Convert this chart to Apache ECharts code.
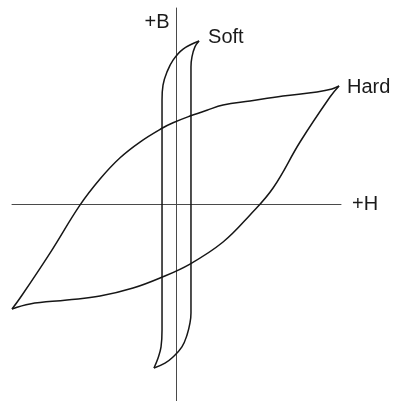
<!DOCTYPE html>
<html>
<head>
<meta charset="utf-8">
<style>
  html, body { margin: 0; padding: 0; background: #ffffff; }
  #chart { width: 394px; height: 401px; }
</style>
<script src="https://cdn.jsdelivr.net/npm/echarts@6/dist/echarts.min.js"></script>
</head>
<body>
<div id="chart"></div>
<script>
// Axis titles and curve names
var axisNameH = '+H';
var axisNameB = '+B';
var loopNames = ['Soft', 'Hard'];

// Hard material loop: upper (descending) branch, from +tip to -tip  [H, B]
var hardUpper = [
  [98.8, 60.3], [94.5, 58.8], [85.4, 57.3], [64.7, 55.2], [44.7, 52.7],
  [28.3, 50.6], [18.5, 48.0], [8.2, 45.0], [-2.1, 41.6],
  [-8.8, 38.8], [-22.2, 31.8], [-34.3, 23.8],
  [-46.5, 13.0], [-58.7, -0.3], [-76.9, -24.7],
  [-95.1, -47.6], [-100, -53.2]
];
// Hard material loop: lower (ascending) branch, from -tip to +tip
var hardLower = [
  [-100, -53.2], [-89.1, -50.6], [-66.6, -48.6], [-46.5, -46.6], [-26.4, -42.5],
  [-10.0, -37.4], [8.2, -30.3], [28.3, -19.1],
  [44.7, -5.3], [58.7, 8.4],
  [75.1, 31.8], [93.3, 54.7], [98.8, 60.3]
];
// Soft material loop: descending branch, from +tip to -tip
var softLeft = [
  [13.7, 83.2], [4.0, 79.1], [-2.1, 73.5], [-5.8, 67.4], [-8.2, 60.8],
  [-8.8, 53.2], [-8.8, 0], [-8.8, -63.9], [-9.4, -72.5], [-11.2, -78.1],
  [-13.7, -83.2]
];
// Soft material loop: ascending branch, from -tip to +tip
var softRight = [
  [-13.7, -83.2], [-7.0, -80.7], [-2.1, -77.6], [3.3, -72.5], [6.4, -66.4],
  [8.2, -60.3], [8.8, -55.2], [8.8, 0], [8.8, 70.0], [9.4, 75.1],
  [11.2, 80.2], [13.7, 83.2]
];

var FONT = '"Liberation Sans", Arial, sans-serif';
var curveStyle = { color: '#161616', width: 1.5 };

function branch(data) {
  return {
    type: 'line',
    data: data,
    showSymbol: false,
    symbol: 'none',
    smooth: 0.4,
    clip: false,
    silent: true,
    lineStyle: curveStyle
  };
}

var chart = echarts.init(document.getElementById('chart'), null, { renderer: 'canvas' });
chart.setOption({
  animation: false,
  backgroundColor: '#ffffff',
  grid: { left: 12, right: 53, top: 8, bottom: 0, containLabel: false },
  xAxis: {
    type: 'value', min: -100, max: 100,
    axisLine: { show: true, onZero: true, lineStyle: { color: '#4a4a4a', width: 1 } },
    axisTick: { show: false }, axisLabel: { show: false }, splitLine: { show: false },
    name: axisNameH, nameLocation: 'end', nameGap: 11,
    nameTextStyle: { fontFamily: FONT, fontSize: 20, color: '#1a1a1a', verticalAlign: 'middle' }
  },
  yAxis: {
    type: 'value', min: -100, max: 100,
    axisLine: { show: true, onZero: true, lineStyle: { color: '#4a4a4a', width: 1 } },
    axisTick: { show: false }, axisLabel: { show: false }, splitLine: { show: false },
    name: axisNameB, nameLocation: 'end', nameGap: -14,
    nameTextStyle: { fontFamily: FONT, fontSize: 20, color: '#1a1a1a',
      align: 'right', verticalAlign: 'middle', padding: [0, 7, 0, 0] }
  },
  series: [
    branch(hardUpper),
    branch(hardLower),
    branch(softLeft),
    branch(softRight),
    {
      type: 'scatter',
      symbolSize: 0,
      silent: true,
      clip: false,
      itemStyle: { opacity: 1 },
      data: [
        { name: loopNames[0], value: softLeft[0],
          label: { offset: [0, -4], distance: 9 } },
        { name: loopNames[1], value: hardUpper[0],
          label: { offset: [0, 1], distance: 8 } }
      ],
      label: {
        show: true, position: 'right', formatter: '{b}',
        fontFamily: FONT, fontSize: 20, color: '#1a1a1a', opacity: 1
      }
    }
  ]
});
</script>
</body>
</html>
